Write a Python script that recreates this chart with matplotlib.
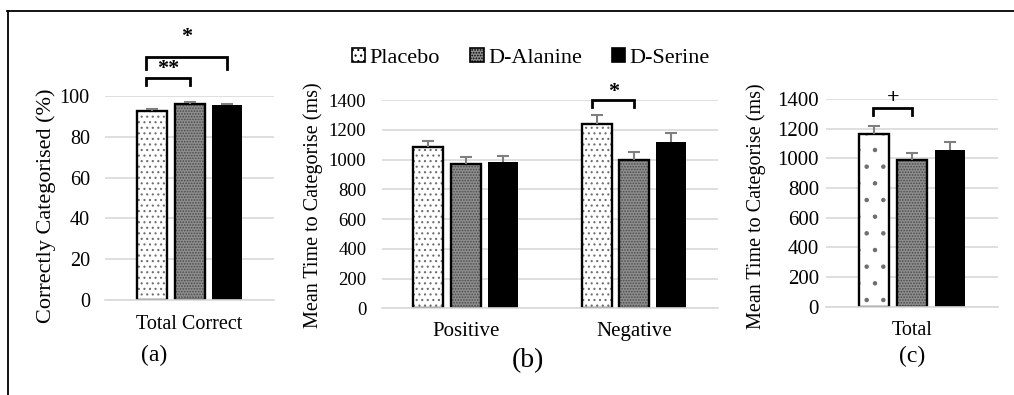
"""Placebo / D-Alanine / D-Serine categorisation results, three panels"""
import matplotlib
matplotlib.use("Agg")
import matplotlib.pyplot as plt
import numpy as np
from matplotlib.lines import Line2D
from matplotlib.patches import Patch

plt.rcParams["font.family"] = ["Liberation Serif", "DejaVu Serif"]
plt.rcParams["hatch.linewidth"] = 0.8

groups = ["Placebo", "D-Alanine", "D-Serine"]

# (a) accuracy
acc_category = ["Total Correct"]
acc_mean = [92.5, 96.3, 95.5]
acc_err = [1.0, 0.8, 0.8]

# (b) reaction time by valence
rt_categories = ["Positive", "Negative"]
rt_placebo = [1085, 1240]
rt_alanine = [970, 1000]
rt_serine = [980, 1115]
rt_placebo_err = [40, 60]
rt_alanine_err = [45, 52]
rt_serine_err = [47, 60]

# (c) reaction time overall
total_category = ["Total"]
total_mean = [1165, 990, 1055]
total_err = [52, 48, 52]

BAR_W = 0.178
OFFSETS = [-0.222, 0.0, 0.222]
GRID = "#d9d9d9"
ERR = "#7f7f7f"


def styles(coarse=False):
    return [
        dict(face="white", hatch="." if coarse else "...", hatch_col="#6e6e6e", edge=True),
        dict(face="#8e8e8e", hatch="......", hatch_col="#4a4a4a", edge=True),
        dict(face="black", hatch=None, hatch_col="black", edge=False),
    ]


def draw_bars(ax, n_cat, series, errors, coarse=False):
    x = np.arange(n_cat)
    for off, vals, errs, st in zip(OFFSETS, series, errors, styles(coarse)):
        xs = x + off
        ax.bar(xs, vals, BAR_W, color=st["face"], hatch=st["hatch"],
               edgecolor=st["hatch_col"], linewidth=0, zorder=2)
        if st["edge"]:
            ax.bar(xs, vals, BAR_W, fill=False, edgecolor="black",
                   linewidth=1.7, zorder=3)
        eb = ax.errorbar(xs, vals, yerr=[np.zeros(len(errs)), errs], fmt="none",
                         ecolor=ERR, elinewidth=1.5, capsize=4.3, capthick=1.5,
                         zorder=4)
        eb.lines[1][0].set_visible(False)


def style_axis(ax, ymax, step, labels, tick_size, cat_size, ypad, xpad):
    ax.set_xlim(-0.5, len(labels) - 0.5)
    ax.set_ylim(0, ymax)
    ax.set_yticks(np.arange(0, ymax + 1, step))
    ax.set_xticks(np.arange(len(labels)))
    ax.set_xticklabels(labels, fontsize=cat_size)
    ax.tick_params(axis="y", length=0, labelsize=tick_size, pad=ypad)
    ax.tick_params(axis="x", length=0, pad=xpad)
    ax.yaxis.grid(True, color=GRID, linewidth=1.2)
    ax.set_axisbelow(True)
    for s in ["top", "right", "left"]:
        ax.spines[s].set_visible(False)
    ax.spines["bottom"].set_color(GRID)
    ax.spines["bottom"].set_linewidth(1.2)
    ax.spines["bottom"].set_zorder(5)


def bracket(ax, x0, x1, y_top, drop, label, text_y, size=16):
    ax.plot([x0, x0, x1, x1], [y_top - drop, y_top, y_top, y_top - drop],
            color="black", linewidth=2.0, clip_on=False, zorder=6,
            solid_joinstyle="miter")
    ax.text((x0 + x1) / 2, text_y, label, ha="center", va="center",
            fontsize=size, fontweight="bold", clip_on=False)


fig = plt.figure(figsize=(10.14, 3.95), dpi=100)

# panel (a)
ax_a = fig.add_axes([0.1036, 0.2405, 0.1667, 0.5165])
draw_bars(ax_a, 1, [[v] for v in acc_mean], [[e] for e in acc_err])
style_axis(ax_a, 100, 20, acc_category, 14.5, 14.5, 11, 11)
bracket(ax_a, -0.257, 0.222, 119, 6, "*", 129)
bracket(ax_a, -0.255, 0.0, 108.8, 3.5, "**", 113)

# panel (b)
ax_b = fig.add_axes([0.3764, 0.2195, 0.3317, 0.5273])
draw_bars(ax_b, 2, [rt_placebo, rt_alanine, rt_serine],
          [rt_placebo_err, rt_alanine_err, rt_serine_err])
style_axis(ax_b, 1400, 200, rt_categories, 13.5, 15, 11, 10)
bracket(ax_b, 1 - 0.222 - 0.025, 1.0, 1400, 45, "*", 1455)

# panel (c)
ax_c = fig.add_axes([0.8146, 0.2235, 0.1696, 0.5258])
draw_bars(ax_c, 1, [[v] for v in total_mean], [[e] for e in total_err], coarse=True)
style_axis(ax_c, 1400, 200, total_category, 15, 14.5, 5, 10)
bracket(ax_c, -0.224, 0.0, 1342, 50, "+", 1410)

# axis titles and panel letters
fig.text(46 / 1014, 1 - 206 / 395, "Correctly Categorised (%)", rotation=90,
         ha="center", va="center", fontsize=16)
fig.text(313 / 1014, 1 - 205 / 395, "Mean Time to Categorise (ms)", rotation=90,
         ha="center", va="center", fontsize=14.5)
fig.text(756 / 1014, 1 - 206 / 395, "Mean Time to Categorise (ms)", rotation=90,
         ha="center", va="center", fontsize=14.5)
fig.text(154 / 1014, 1 - 355 / 395, "(a)", ha="center", va="center", fontsize=17)
fig.text(528 / 1014, 1 - 361 / 395, "(b)", ha="center", va="center", fontsize=20)
fig.text(912 / 1014, 1 - 356 / 395, "(c)", ha="center", va="center", fontsize=17)

# legend
st = styles()
handles = [Patch(facecolor=s["face"], hatch=s["hatch"], edgecolor="black",
                 linewidth=1.2) for s in st]
fig.legend(handles, groups, loc="center", bbox_to_anchor=(531 / 1014, 1 - 58 / 395),
           ncol=3, frameon=False, fontsize=16, handlelength=0.6,
           handleheight=0.6, handletextpad=0.2, columnspacing=1.35)

# outer frame (top and left only)
fig.add_artist(Line2D([7 / 1014, 1], [1 - 10.5 / 395, 1 - 10.5 / 395],
                      color="black", linewidth=1.3, transform=fig.transFigure))
fig.add_artist(Line2D([7.5 / 1014, 7.5 / 1014], [0, 1 - 10.5 / 395],
                      color="black", linewidth=1.3, transform=fig.transFigure))

fig.savefig("out.png", dpi=100)
